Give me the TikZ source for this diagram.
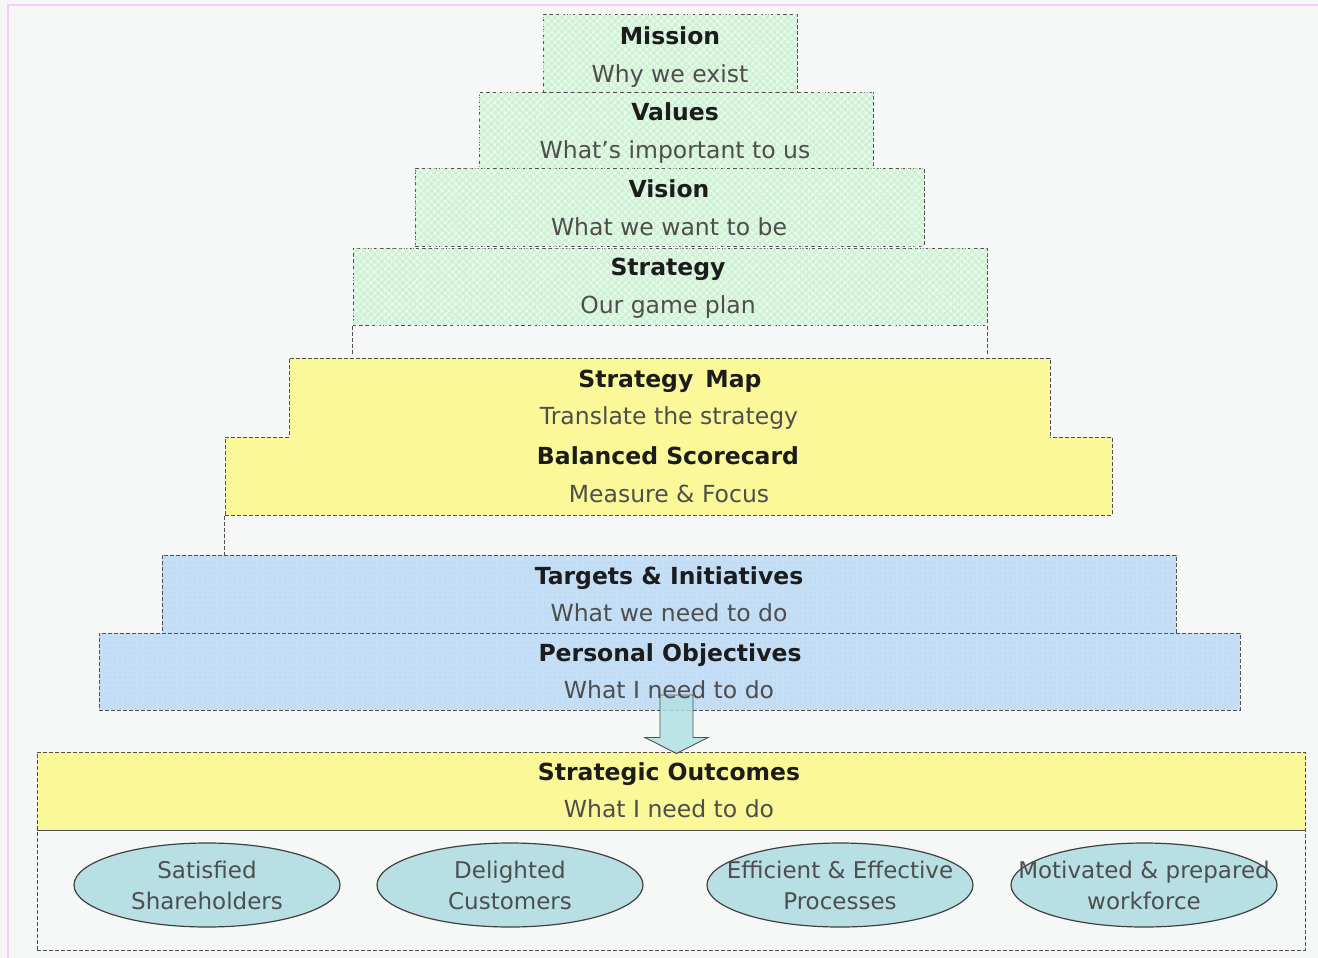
\documentclass[tikz,border=0pt]{standalone}
\usepackage{fontspec}
\setmainfont{DejaVu Sans}
\usetikzlibrary{patterns.meta,shapes.geometric,calc}
\definecolor{bg}{RGB}{246,248,248}
\definecolor{pinkline}{RGB}{255,200,250}
\definecolor{boxline}{RGB}{80,80,80}
\definecolor{grn}{RGB}{208,242,212}
\definecolor{grnhatch}{RGB}{240,252,242}
\definecolor{ylw}{RGB}{250,248,152}
\definecolor{blu}{RGB}{196,222,246}
\definecolor{bludot}{RGB}{160,196,228}
\definecolor{ell}{RGB}{184,224,228}
\definecolor{ttlcol}{RGB}{28,28,28}
\definecolor{subcol}{RGB}{78,78,78}
\definecolor{arrfill}{RGB}{178,224,226}
\begin{document}
\begin{tikzpicture}[x=1pt,y=-1pt,
  box/.style={draw=boxline, dash pattern=on 4pt off 2pt, line width=1pt, inner sep=0pt, rectangle},
  gbox/.style={box, fill=grn,
    postaction={pattern={Lines[angle=45,distance=5pt,line width=0.9pt]}, pattern color=grnhatch},
    postaction={pattern={Lines[angle=-45,distance=5pt,line width=0.9pt]}, pattern color=grnhatch}},
  ybox/.style={box, fill=ylw},
  bbox/.style={box, fill=blu,
    postaction={pattern={Dots[distance=5pt,radius=0.5pt]}, pattern color=bludot}},
  ttl/.style={anchor=base, inner sep=0pt, text=ttlcol, font=\fontsize{23.5}{28}\selectfont\bfseries},
  sub/.style={anchor=base, inner sep=0pt, text=subcol, font=\fontsize{23.5}{28}\selectfont},
  goal/.style={ellipse, draw=black!75, line width=1.2pt, fill=ell, inner sep=0pt,
    minimum width=266pt, minimum height=84pt},
  goaltext/.style={inner sep=0pt, align=center, text=subcol, font=\fontsize{23}{31}\selectfont},
  fatarrow/.style={draw=boxline, line width=0.9pt, fill=arrfill, fill opacity=0.85},
  ext/.style={draw=boxline, dash pattern=on 4pt off 2pt, line width=1pt}
]
\useasboundingbox (0,0) rectangle (1318,958);
\fill[bg] (0,0) rectangle (1318,958);
\draw[pinkline, line width=1.5pt] (8,958) -- (8,5) -- (1318,5);

% green tier
\node[gbox, minimum width=254pt, minimum height=78pt] (mission) at (670,54) {};
\node[gbox, minimum width=394pt, minimum height=75pt] (values) at (676,130.5) {};
\node[gbox, minimum width=509pt, minimum height=78pt] (vision) at (669.5,207) {};
\node[gbox, minimum width=634pt, minimum height=77pt] (strategy) at (670,286.5) {};
\draw[ext] (strategy.south west) -- ++(0,30);
\draw[ext] (strategy.south east) -- ++(0,30);

% yellow tier
\node[ybox, minimum width=761pt, minimum height=79pt] (smap) at (669.5,397.5) {};
\node[ybox, minimum width=887pt, minimum height=78pt] (bsc) at (668.5,476) {};
\fill[ylw] ($(smap.south west)+(0.8,-2)$) rectangle ($(smap.south east)+(-0.8,2)$);
\draw[ext] (bsc.south west) -- ++(0,40);

% blue tier
\node[bbox, minimum width=1014pt, minimum height=78pt] (targets) at (669,594) {};
\node[bbox, minimum width=1141pt, minimum height=77pt] (personal) at (669.5,671.5) {};

% outcomes
\node[box, fill=bg, minimum width=1268pt, minimum height=120pt] (results) at (671,890) {};
\node[ybox, minimum width=1268pt, minimum height=78pt] (outcomes) at (671,791) {};
\draw[black!70, line width=1.5pt] (outcomes.south west) -- (outcomes.south east);

% arrow from personal objectives to strategic outcomes
\coordinate (atop) at (676.5,695);
\coordinate (atip) at (outcomes.north -| atop);
\draw[fatarrow] ($(atop)+(-16.5,0)$) -- ($(atop)+(16.5,0)$) -- ($(atip)+(16.5,-14)$) -- ($(atip)+(31.5,-14)$)
  -- ($(atip)+(0,2)$) -- ($(atip)+(-31.5,-14)$) -- ($(atip)+(-16.5,-14)$) -- cycle;

% texts
\node[ttl] (missionT) at (670,45) {Mission};
\node[sub] (missionS) at (670,82) {Why we exist};
\node[ttl] (valuesT) at (675,121) {Values};
\node[sub] (valuesS) at (675,158) {What’s important to us};
\node[ttl] (visionT) at (669,197) {Vision};
\node[sub] (visionS) at (669,235) {What we want to be};
\node[ttl] (strategyT) at (668,275) {Strategy};
\node[sub] (strategyS) at (668,313) {Our game plan};
\node[ttl] (smapT) at (670,387) {Strategy\, Map};
\node[sub] (smapS) at (669,424) {Translate the strategy};
\node[ttl] (bscT) at (668,464) {Balanced Scorecard};
\node[sub] (bscS) at (669,502) {Measure \& Focus};
\node[ttl] (targetsT) at (669,584) {Targets \& Initiatives};
\node[sub] (targetsS) at (669,621) {What we need to do};
\node[ttl] (personalT) at (670,661) {Personal Objectives};
\node[sub] (personalS) at (669,698) {What I need to do};
\node[ttl] (outcomesT) at (669,780) {Strategic Outcomes};
\node[sub] (outcomesS) at (669,817) {What I need to do};

% goal ellipses
\node[goal] (g1) at (207,885) {};
\node[goal] (g2) at (510,885) {};
\node[goal] (g3) at (840,885) {};
\node[goal] (g4) at (1144,885) {};
\node[goaltext] (g1t) at (g1) {Satisfied\\Shareholders};
\node[goaltext] (g2t) at (g2) {Delighted\\Customers};
\node[goaltext] (g3t) at (g3) {Efficient \& Effective\\Processes};
\node[goaltext] (g4t) at (g4) {Motivated \& prepared\\workforce};
\end{tikzpicture}
\end{document}
